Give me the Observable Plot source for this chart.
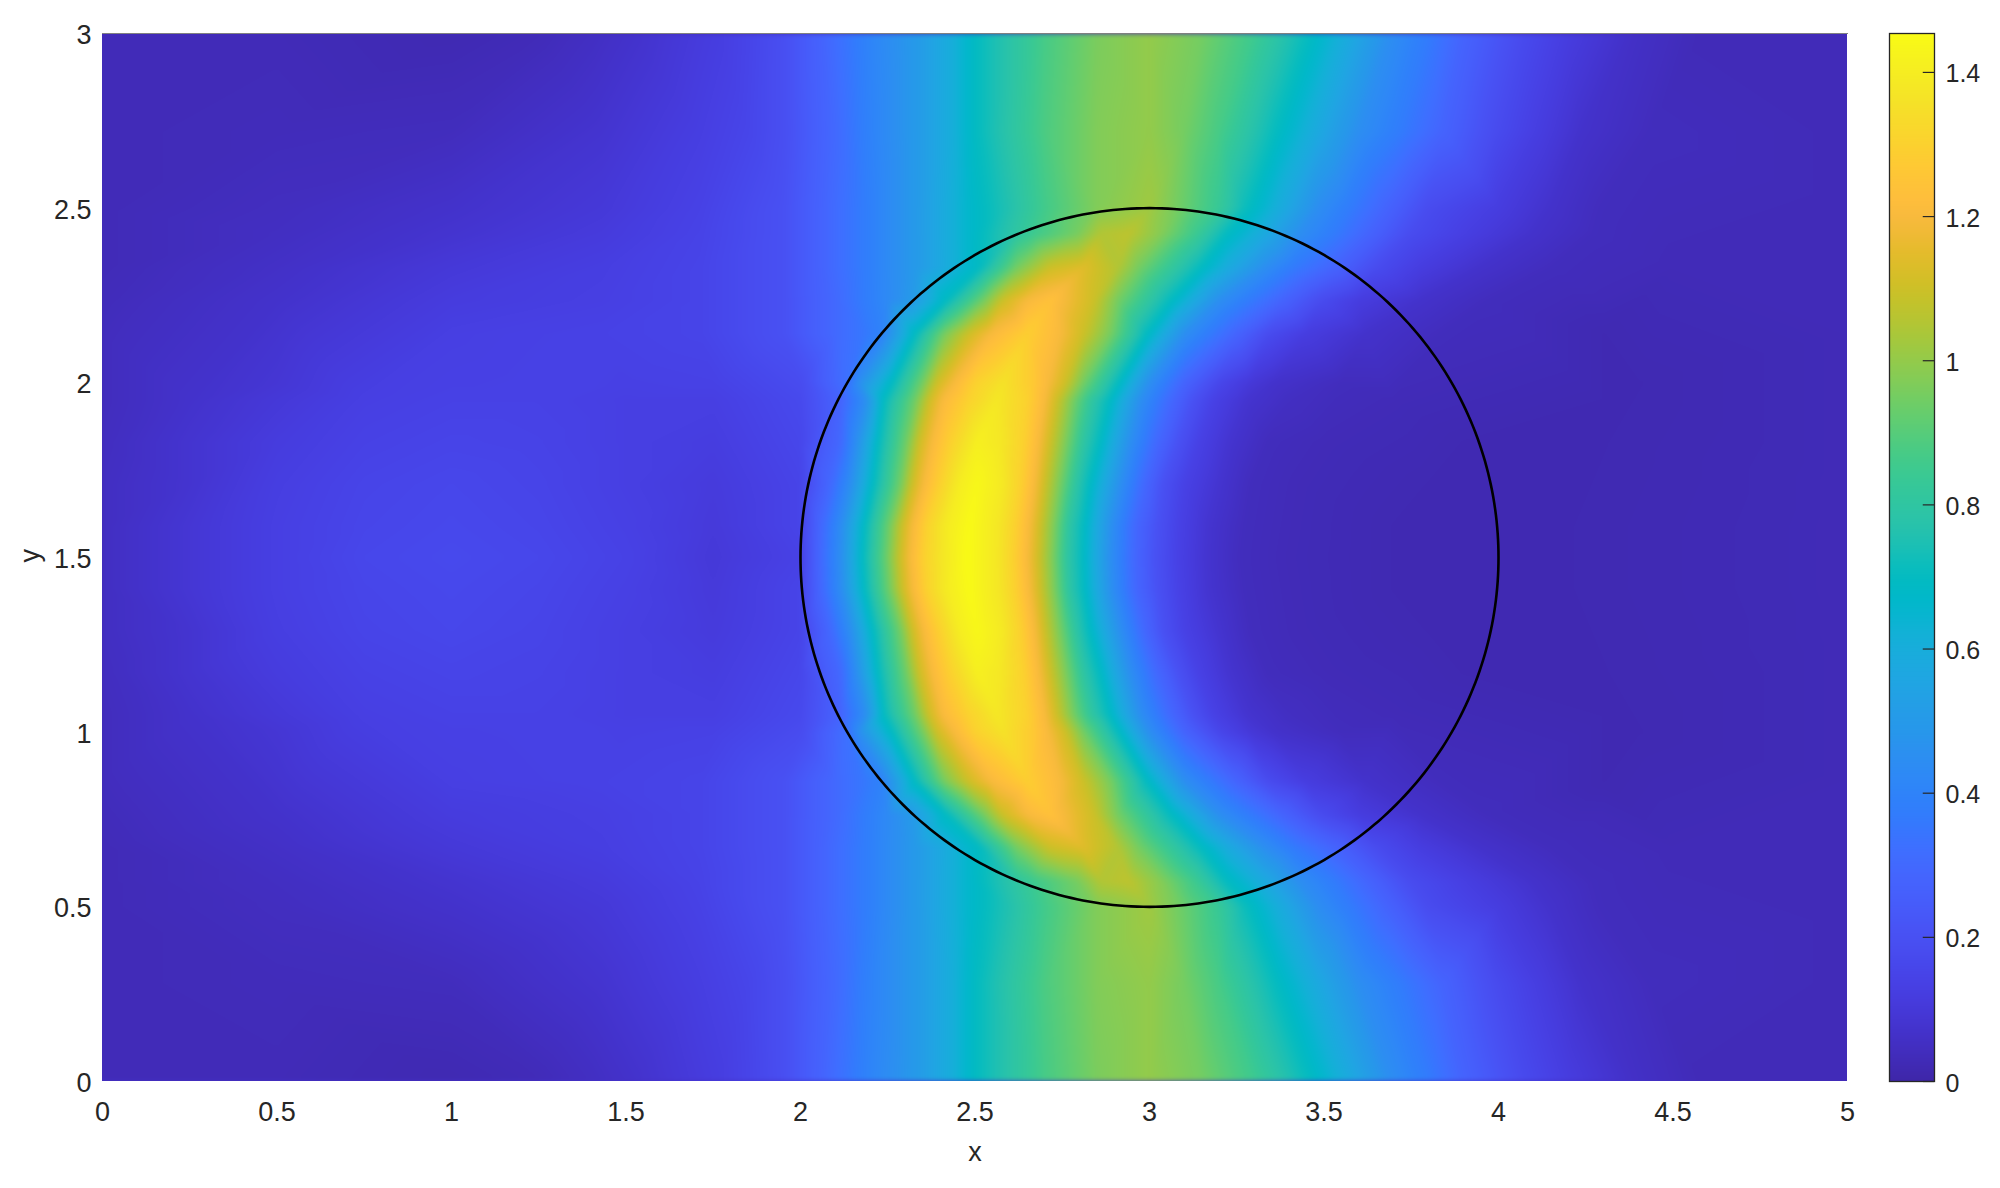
<!DOCTYPE html>
<html><head><meta charset="utf-8">
<script src="https://cdn.jsdelivr.net/npm/d3@7"></script>
<script src="https://cdn.jsdelivr.net/npm/@observablehq/plot@0.6"></script>
<style>
html,body{margin:0;padding:0;background:#fff}
#c{position:relative;width:2000px;height:1188px;font-family:"Liberation Sans",Arial,sans-serif}
#c svg{position:absolute;top:0;overflow:visible}
</style></head><body><div id="c"></div>
<script>
// Field values: [x, value] knots per row. Symmetric about y = 1.5.
const row150=[[0,.05],[.25,.09],[.5,.13],[.75,.16],[1,.17],[1.25,.16],[1.5,.14],[1.75,.1],[2,.14],[2.057,.3],[2.115,.45],[2.18,.7],[2.25,.95],[2.286,1.1],[2.315,1.2],[2.353,1.3],[2.41,1.38],[2.478,1.454],[2.563,1.38],[2.61,1.3],[2.65,1.2],[2.683,1.1],[2.726,.95],[2.764,.8],[2.807,.7],[2.888,.45],[2.955,.3],[3.02,.2],[3.08,.14],[3.165,.08],[3.26,.04],[3.385,.03],[3.7,.02],[4.2,.02],[5,.03]];
const row159=[[0,.05],[.25,.09],[.5,.13],[.75,.155],[1,.165],[1.25,.155],[1.5,.135],[1.75,.105],[2,.15],[2.06,.3],[2.118,.45],[2.185,.7],[2.256,.95],[2.292,1.1],[2.322,1.2],[2.36,1.3],[2.415,1.39],[2.484,1.45],[2.565,1.38],[2.615,1.3],[2.655,1.2],[2.687,1.1],[2.73,.95],[2.768,.8],[2.81,.7],[2.892,.45],[2.958,.3],[3.025,.2],[3.085,.14],[3.17,.08],[3.27,.04],[3.4,.03],[3.7,.02],[4.2,.02],[5,.03]];
const row171=[[0,.05],[.25,.08],[.5,.125],[.75,.15],[1,.16],[1.25,.15],[1.5,.13],[1.75,.11],[2,.15],[2.086,.3],[2.143,.45],[2.21,.7],[2.287,.95],[2.32,1.1],[2.353,1.2],[2.4,1.3],[2.455,1.4],[2.506,1.44],[2.575,1.39],[2.63,1.3],[2.67,1.2],[2.7,1.1],[2.745,.95],[2.788,.8],[2.826,.7],[2.917,.45],[2.984,.3],[3.04,.2],[3.1,.14],[3.2,.08],[3.29,.04],[3.42,.03],[3.8,.02],[4.2,.02],[5,.03]];
const row183=[[0,.045],[.25,.08],[.5,.115],[.75,.14],[1,.15],[1.25,.145],[1.5,.13],[1.75,.12],[2,.16],[2.115,.3],[2.16,.45],[2.224,.7],[2.305,.95],[2.34,1.1],[2.377,1.2],[2.43,1.3],[2.506,1.41],[2.573,1.38],[2.64,1.3],[2.683,1.2],[2.716,1.1],[2.764,.95],[2.81,.8],[2.855,.7],[2.945,.45],[3.02,.3],[3.085,.2],[3.14,.14],[3.23,.08],[3.337,.04],[3.5,.03],[3.9,.02],[4.3,.02],[5,.03]];
const row195=[[0,.04],[.25,.07],[.5,.1],[.75,.13],[1,.14],[1.25,.14],[1.5,.13],[1.75,.13],[2,.17],[2.115,.28],[2.186,.45],[2.24,.7],[2.33,.95],[2.368,1.1],[2.406,1.2],[2.478,1.3],[2.563,1.38],[2.65,1.3],[2.7,1.2],[2.735,1.1],[2.783,.95],[2.836,.8],[2.883,.7],[2.974,.45],[3.06,.3],[3.127,.2],[3.184,.14],[3.28,.08],[3.4,.05],[3.7,.03],[4.3,.02],[5,.03]];
const row200=[[0,.04],[.5,.09],[1,.135],[1.5,.135],[1.75,.14],[2,.18],[2.134,.33],[2.167,.45],[2.265,.7],[2.35,.95],[2.39,1.1],[2.44,1.2],[2.5,1.3],[2.58,1.36],[2.66,1.28],[2.71,1.2],[2.76,1.1],[2.81,.95],[2.91,.7],[3,.45],[3.1,.28],[3.2,.16],[3.29,.1],[3.36,.07],[3.55,.04],[3.85,.03],[4.4,.02],[5,.03]];
const row214=[[0,.04],[.5,.08],[1,.13],[1.43,.14],[1.71,.15],[1.95,.2],[2.1,.3],[2.19,.36],[2.234,.4],[2.33,.7],[2.41,.95],[2.48,1.1],[2.545,1.2],[2.65,1.29],[2.745,1.2],[2.81,1.1],[2.89,.95],[2.99,.7],[3.1,.45],[3.25,.28],[3.34,.18],[3.45,.12],[3.62,.07],[3.83,.04],[4.3,.02],[5,.03]];
const row224=[[0,.035],[.5,.07],[1,.115],[1.43,.13],[1.71,.15],[1.95,.2],[2.1,.3],[2.25,.43],[2.32,.5],[2.42,.7],[2.525,.95],[2.58,1.1],[2.65,1.2],[2.716,1.24],[2.84,1.1],[2.91,.95],[3.06,.7],[3.2,.45],[3.38,.28],[3.49,.18],[3.6,.12],[3.78,.07],[3.97,.04],[4.3,.03],[5,.03]];
const row233=[[0,.03],[.5,.06],[1,.1],[1.43,.125],[1.71,.15],[1.95,.2],[2.05,.27],[2.19,.38],[2.33,.5],[2.425,.6],[2.515,.7],[2.62,.95],[2.716,1.1],[2.81,1.14],[2.91,1.05],[2.97,.95],[3.146,.7],[3.23,.58],[3.33,.45],[3.41,.37],[3.53,.28],[3.65,.18],[3.78,.12],[3.95,.07],[4.15,.04],[4.5,.03],[5,.03]];
const row243=[[0,.03],[.5,.05],[1,.08],[1.43,.11],[1.71,.145],[1.95,.2],[2.05,.27],[2.19,.38],[2.33,.5],[2.48,.66],[2.62,.8],[2.67,.85],[2.79,.95],[2.86,1.05],[2.94,1.07],[3.03,.98],[3.13,.85],[3.22,.7],[3.33,.58],[3.43,.45],[3.53,.37],[3.63,.28],[3.75,.18],[3.93,.12],[4.1,.07],[4.27,.04],[5,.03]];
const row250=[[0,.03],[.5,.045],[1,.07],[1.43,.1],[1.71,.14],[1.95,.2],[2.05,.27],[2.19,.38],[2.33,.5],[2.48,.66],[2.6,.76],[2.7,.86],[2.85,.97],[3,1.02],[3.1,.93],[3.2,.83],[3.27,.72],[3.385,.58],[3.48,.45],[3.576,.37],[3.68,.28],[3.8,.18],[4,.12],[4.15,.07],[4.29,.04],[5,.03]];
const row272=[[0,.03],[.5,.035],[1,.04],[1.43,.08],[1.71,.125],[1.85,.155],[1.95,.19],[2.1,.3],[2.19,.39],[2.33,.5],[2.43,.6],[2.505,.7],[2.7,.88],[2.85,.97],[3,1],[3.1,.95],[3.2,.87],[3.365,.7],[3.48,.58],[3.6,.45],[3.72,.37],[3.84,.28],[3.99,.18],[4.12,.12],[4.24,.07],[4.43,.04],[5,.03]];
const row300=[[0,.03],[.5,.03],[1,.02],[1.24,.03],[1.4,.05],[1.52,.07],[1.76,.12],[1.85,.15],[1.95,.19],[2.05,.27],[2.19,.4],[2.33,.5],[2.43,.6],[2.505,.7],[2.7,.87],[2.85,.96],[3,1],[3.15,.95],[3.3,.85],[3.46,.7],[3.576,.58],[3.69,.45],[3.8,.37],[3.9,.28],[4.06,.18],[4.2,.12],[4.39,.06],[4.58,.03],[5,.03]];
const rowYs=[1.5,1.59,1.71,1.83,1.95,2,2.14,2.236,2.33,2.427,2.5,2.72,3];
const rowKnots=[row150,row159,row171,row183,row195,row200,row214,row224,row233,row243,row250,row272,row300];
const xTicks=[0,.5,1,1.5,2,2.5,3,3.5,4,4.5,5];
const yTicks=[0,.5,1,1.5,2,2.5,3];
const barTicks=[0,.2,.4,.6,.8,1,1.2,1.4];
const valueMax=1.454;
const circleCenter=[3,1.5], circleRadius=1;
const parula=[[.2422,.1504,.6603],[.2504,.165,.7076],[.2578,.1818,.7511],[.2647,.1978,.7952],[.2706,.2147,.8364],[.2751,.2342,.871],[.2783,.2559,.8991],[.2803,.2782,.9221],[.2813,.3006,.9414],[.281,.3228,.9579],[.2795,.3447,.9717],[.276,.3667,.9829],[.2699,.3892,.9906],[.2602,.4123,.9952],[.244,.4358,.9988],[.2206,.4603,.9973],[.1963,.4847,.9892],[.1834,.5074,.9798],[.1786,.5289,.9682],[.1764,.5499,.952],[.1687,.5703,.9359],[.154,.5902,.9218],[.146,.6091,.9079],[.138,.6276,.8973],[.1248,.6459,.8883],[.1113,.6635,.8763],[.0952,.6798,.8598],[.0689,.6948,.8394],[.0297,.7082,.8163],[.0036,.7203,.7917],[.0067,.7312,.766],[.0433,.7411,.7394],[.0964,.75,.712],[.1408,.7584,.6842],[.1717,.767,.6554],[.1938,.7758,.6251],[.2161,.7843,.5923],[.247,.7918,.5567],[.2906,.7973,.5188],[.3406,.8008,.4789],[.3909,.8029,.4354],[.4456,.8024,.3909],[.5044,.7993,.348],[.5616,.7942,.3045],[.6174,.7876,.2612],[.672,.7793,.2227],[.7242,.7698,.191],[.7738,.7598,.1646],[.8203,.7498,.1535],[.8634,.7406,.1596],[.9035,.733,.1774],[.9393,.7288,.21],[.9728,.7298,.2394],[.9956,.7434,.2371],[.997,.7659,.2199],[.9952,.7893,.2028],[.9892,.8136,.1885],[.9786,.8386,.1766],[.9676,.8639,.1643],[.961,.889,.1537],[.9597,.9135,.1423],[.9628,.9373,.1265],[.9691,.9606,.1064],[.9769,.9839,.0805]];
const parulaCss=parula.map(([r,g,b])=>d3.rgb(Math.round(r*255),Math.round(g*255),Math.round(b*255)).formatHex());
const color={type:"linear",domain:[0,valueMax],interpolate:d3.piecewise(d3.interpolateRgb,parulaCss)};

const points=[];
rowYs.forEach((y,i)=>{
  for(const [x,v] of rowKnots[i]){
    points.push({x,y,v});
    if(y!==1.5) points.push({x,y:3-y,v});
  }
});
const circle=d3.range(0,361,1).map(a=>({
  x:circleCenter[0]+circleRadius*Math.cos(a*Math.PI/180),
  y:circleCenter[1]+circleRadius*Math.sin(a*Math.PI/180)}));

const ink="#262626", fs=27;
const main=Plot.plot({
  width:2000,height:1188,marginLeft:102,marginRight:153,marginTop:33,marginBottom:107,
  style:{background:"transparent",fontFamily:'"Liberation Sans",Arial,sans-serif',fontSize:fs+"px",color:ink},
  x:{domain:[0,5]},y:{domain:[0,3]},color,
  marks:[
    Plot.raster(points,{x:"x",y:"y",fill:"v",interpolate:"barycentric",pixelSize:1,x1:-.04,x2:5.04,y1:-.04,y2:3.04,clip:true}),
    Plot.frame({anchor:"top",stroke:"#808080",strokeWidth:1}),
    Plot.line(circle,{x:"x",y:"y",stroke:"black",strokeWidth:2.6}),
    Plot.axisX({ticks:xTicks,tickFormat:d=>String(d),tickSize:0,tickPadding:20,fontSize:fs,label:null}),
    Plot.axisY({ticks:yTicks,tickFormat:d=>String(d),tickSize:0,tickPadding:11,fontSize:fs,label:null,dy:2}),
    Plot.text(["x"],{frameAnchor:"bottom",dy:79,fontSize:fs,fill:ink}),
    Plot.text(["y"],{frameAnchor:"left",dx:-72,dy:5,rotate:-90,fontSize:fs,fill:ink})
  ]});
main.style.left="0";
main.querySelector("image").style.filter="blur(2.5px)";
const bar=Plot.plot({
  width:140,height:1188,marginLeft:29,marginRight:66,marginTop:33,marginBottom:107,
  style:{background:"transparent",fontFamily:'"Liberation Sans",Arial,sans-serif',fontSize:fs+"px",color:ink},
  x:{domain:[0,1],axis:null},y:{domain:[0,valueMax]},color,
  marks:[
    Plot.raster({x1:0,x2:1,y1:0,y2:valueMax,fill:(x,y)=>y,pixelSize:1}),
    Plot.ruleY(barTicks,{x1:.75,x2:1,stroke:ink,strokeWidth:1.2}),
    Plot.frame({stroke:ink,strokeWidth:1.3}),
    Plot.axisY({anchor:"right",ticks:barTicks,tickFormat:d=>String(d),tickSize:0,tickPadding:11,fontSize:fs-2,label:null,dy:2})
  ]});
bar.style.left="1860px";
const c=document.getElementById("c");
c.append(main,bar);
</script></body></html>
